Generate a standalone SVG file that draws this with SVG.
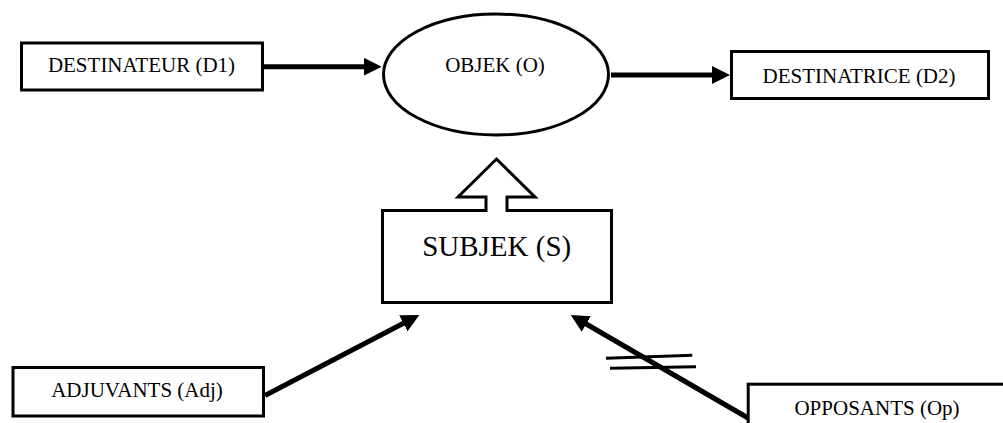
<svg xmlns="http://www.w3.org/2000/svg" width="1003" height="423" viewBox="0 0 1003 423">
<style>
.box{fill:#fff;stroke:#000;stroke-width:3}
.t{font-family:"Liberation Serif","Times New Roman",serif;font-size:21px;fill:#000;text-anchor:middle}
.big{font-size:29px}
.c{stroke:#000;stroke-width:5;fill:none}
.bar{stroke:#000;stroke-width:3}
</style>
<defs>
<marker id="ah" markerUnits="userSpaceOnUse" markerWidth="18" markerHeight="18" refX="12" refY="9" orient="auto" viewBox="0 0 18 18">
<path d="M0,0 L18,9 L0,18 Z" fill="#000"/>
</marker>
</defs>
<rect width="1003" height="423" fill="#fff"/>
<g id="connectors">
<line class="c" x1="263" y1="66.7" x2="375.7" y2="66.7" marker-end="url(#ah)"/>
<line class="c" x1="611" y1="75" x2="724" y2="75" marker-end="url(#ah)"/>
<line class="c" x1="265" y1="395.5" x2="414" y2="317.8" marker-end="url(#ah)"/>
<line class="c" x1="748" y1="418" x2="575.9" y2="318" marker-end="url(#ah)"/>
<line class="bar" x1="606" y1="358.3" x2="692.3" y2="355.3"/>
<line class="bar" x1="610" y1="368.3" x2="696" y2="366.7"/>
</g>
<g id="destinateur">
<rect class="box" x="21.5" y="43" width="241" height="47"/>
<text class="t" x="141.5" y="72">DESTINATEUR (D1)</text>
</g>
<g id="objek">
<ellipse class="box" cx="496" cy="74.5" rx="112.5" ry="60.5"/>
<text class="t" x="495" y="71.5">OBJEK (O)</text>
</g>
<g id="destinatrice">
<rect class="box" x="731.5" y="51.5" width="257" height="47"/>
<text class="t" x="859" y="82.7">DESTINATRICE (D2)</text>
</g>
<g id="subjek">
<path class="box" d="M382.5,210.5 L486,210.5 L486,197 L458,197 L496.5,159 L535,197 L507,197 L507,210.5 L611.5,210.5 L611.5,302.5 L382.5,302.5 Z"/>
<text class="t big" x="496.7" y="256">SUBJEK (S)</text>
</g>
<g id="adjuvants">
<rect class="box" x="13" y="367.5" width="250.5" height="48.5"/>
<text class="t" x="137" y="397.3">ADJUVANTS (Adj)</text>
</g>
<g id="opposants">
<rect class="box" x="748.2" y="384.2" width="300" height="100"/>
<text class="t" x="877" y="415">OPPOSANTS (Op)</text>
</g>
</svg>
